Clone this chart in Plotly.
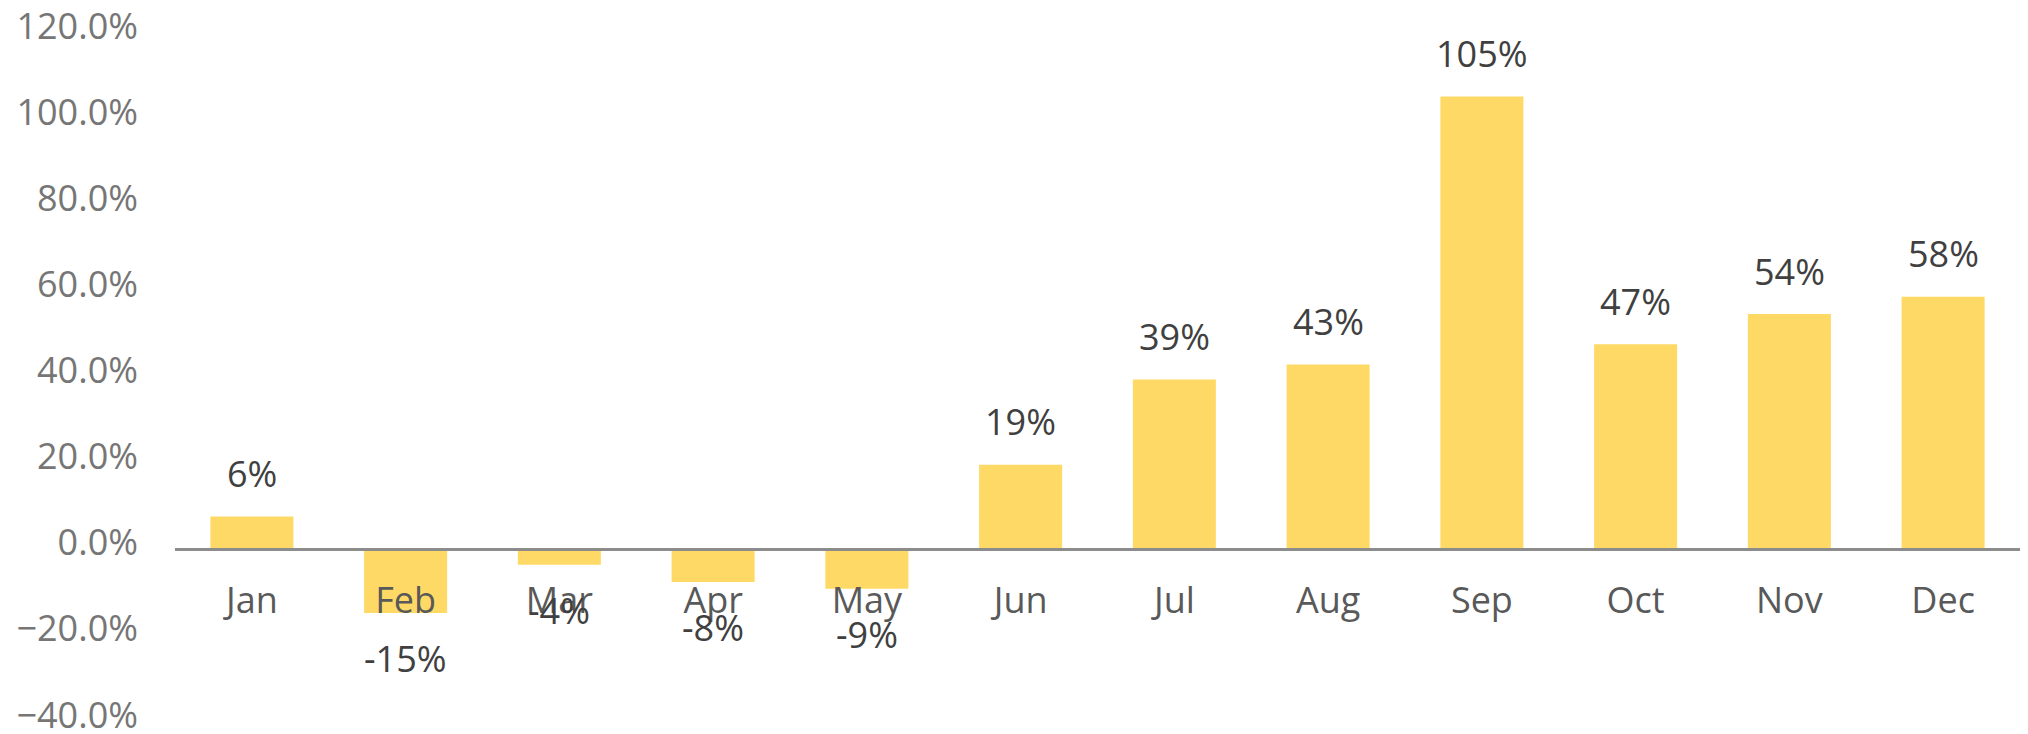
import plotly.graph_objects as go

months = ["Jan", "Feb", "Mar", "Apr", "May", "Jun", "Jul", "Aug", "Sep", "Oct", "Nov", "Dec"]
values = [0.075, -0.149, -0.037, -0.077, -0.093, 0.195, 0.393, 0.428, 1.05, 0.475, 0.545, 0.585]
labels = ["6%", "-15%", "-4%", "-8%", "-9%", "19%", "39%", "43%", "105%", "47%", "54%", "58%"]
y_ticks = [-0.4, -0.2, 0.0, 0.2, 0.4, 0.6, 0.8, 1.0, 1.2]

FONT = "Open Sans"
BAR = "#FFD966"

fig = go.Figure()
fig.add_trace(go.Bar(x=months, y=values, marker=dict(color=BAR, line=dict(width=0)),
                     hoverinfo="skip"))

for m, v, t in zip(months, values, labels):
    fig.add_annotation(x=m, y=v, text=t, showarrow=False,
                       yshift=43 if v >= 0 else -46,
                       font=dict(family=FONT, size=36, color="#404040"))

fig.update_layout(
    width=2028, height=734,
    margin=dict(l=167, r=16, t=24, b=21),
    paper_bgcolor="white", plot_bgcolor="white",
    bargap=0.46, showlegend=False,
    font=dict(family=FONT),
)
fig.update_xaxes(type="category", anchor="free", position=0.25, automargin=False,
                 showline=True, linecolor="#8c8c8c", linewidth=2.5, layer="above traces",
                 ticks="", showgrid=False, zeroline=False,
                 tickfont=dict(family=FONT, size=36, color="#595959"),
                 ticklabelstandoff=19)
fig.update_yaxes(range=[-0.4, 1.2], tickvals=y_ticks, tickformat=".1%", automargin=False,
                 showgrid=False, zeroline=False, showline=False, ticks="",
                 tickfont=dict(family=FONT, size=36, color="#767676"),
                 ticklabelstandoff=36, ticklabelshift=-6, ticklabeloverflow="allow")

fig.write_html("out.html")
